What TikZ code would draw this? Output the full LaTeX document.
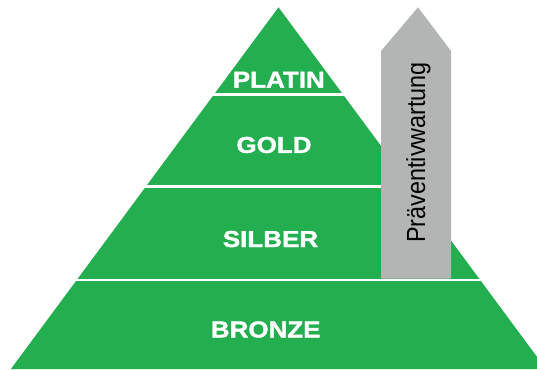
\documentclass[tikz,border=0pt]{standalone}
\usepackage{fontspec}
\setmainfont{Liberation Sans}
\newfontfamily\levelfont[FakeStretch=1.13,FakeBold=1.5]{Liberation Sans Bold}
\definecolor{pyrgreen}{RGB}{35,174,79}
\definecolor{arrowgrey}{RGB}{179,181,181}
\begin{document}
\begin{tikzpicture}[x=1pt,y=-1pt,
  levellabel/.style={text=white,font=\levelfont\fontsize{23}{27}\selectfont,anchor=base,inner sep=0pt},
  gapline/.style={fill=white},
  sidelabel/.style={text=black,font=\fontsize{23.4}{28}\selectfont,anchor=base,inner sep=0pt,rotate=90}]
\useasboundingbox (0,0) rectangle (537,369);
\begin{scope}
\clip (0,0) rectangle (537,369);
% pyramid
\coordinate (apex) at (278.5,7.3);
\coordinate (bl) at (10.9,369);
\coordinate (br) at (546,369);
\fill[pyrgreen] (apex) -- (br) -- (bl) -- cycle;
% separating white gaps
\fill[gapline] (0,93.4) rectangle (537,95.9);
\fill[gapline] (0,185.2) rectangle (537,187.6);
\fill[gapline] (0,278.5) rectangle (537,280.8);
\end{scope}
% grey arrow
\coordinate (atip) at (418,7.3);
\fill[arrowgrey] (381,278.5) -- (381,51) -- (atip) -- (451,51) -- (451,278.5) -- cycle;
% labels
\node[levellabel] (platin) at (278.8,87.6) {PLATIN};
\node[levellabel] (gold) at (274,152.9) {GOLD};
\node[levellabel] (silber) at (270.5,247) {SILBER};
\node[levellabel] (bronze) at (265.7,337.4) {BRONZE};
\node[sidelabel] (praev) at (425,152.4) {\scalebox{1}[1.12]{Präventivwartung}};
\end{tikzpicture}
\end{document}
